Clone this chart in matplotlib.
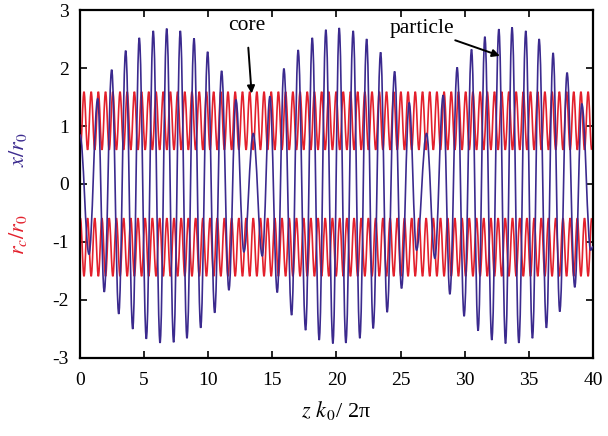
"""
Core envelope r_c/r_0 (red, +/-) and particle orbit x/r_0 (blue) vs z k_0 / 2pi.
Curves are drawn through the extrema read from the reference with smooth
cubic Bezier segments (horizontal tangents at each extremum).
"""

import matplotlib
matplotlib.use('Agg')
import numpy as np
import matplotlib.pyplot as plt
from matplotlib.path import Path
from matplotlib.patches import PathPatch

plt.rcParams['font.family'] = ['Liberation Serif', 'DejaVu Serif']
plt.rcParams['mathtext.fontset'] = 'stix'
plt.rcParams['axes.unicode_minus'] = False

# ===== data =====
# core envelope: positions of the upper maxima, max / min radius
core_peak_z = [0.31, 0.87, 1.43, 1.99, 2.56, 3.12, 3.68, 4.24, 4.80, 5.36,
               5.93, 6.49, 7.05, 7.61, 8.17, 8.73, 9.30, 9.86, 10.42, 10.98,
               11.54, 12.10, 12.67, 13.23, 13.79, 14.35, 14.91, 15.47, 16.03, 16.60,
               17.16, 17.72, 18.28, 18.84, 19.40, 19.97, 20.53, 21.09, 21.65, 22.21,
               22.77, 23.34, 23.90, 24.46, 25.02, 25.58, 26.14, 26.71, 27.27, 27.83,
               28.39, 28.95, 29.51, 30.07, 30.64, 31.20, 31.76, 32.32, 32.88, 33.44,
               34.01, 34.57, 35.13, 35.69, 36.25, 36.81, 37.38, 37.94, 38.50, 39.06,
               39.62]
core_start_z = 0.03
core_end_z = 39.90
core_max = 1.59
core_min = 0.59

# particle orbit: successive extrema (z, x/r0)
particle_z = [0.00, 0.70, 1.38, 1.89, 2.47, 3.02, 3.56, 4.11, 4.62, 5.17,
              5.71, 6.24, 6.76, 7.30, 7.82, 8.34, 8.89, 9.41, 9.95, 10.50,
              11.04, 11.61, 12.16, 12.78, 13.51, 14.21, 14.81, 15.38, 15.90, 16.50,
              17.01, 17.59, 18.11, 18.65, 19.17, 19.72, 20.21, 20.73, 21.30, 21.82,
              22.35, 22.86, 23.44, 23.95, 24.53, 25.07, 25.67, 26.24, 27.02, 27.67,
              28.32, 28.84, 29.41, 29.95, 30.53, 31.04, 31.57, 32.11, 32.66, 33.18,
              33.69, 34.22, 34.76, 35.28, 35.80, 36.37, 36.89, 37.41, 37.98, 38.58,
              39.13, 39.82, 40.00]
particle_x = [0.85, -1.21, 1.47, -1.86, 1.97, -2.24, 2.30, -2.50, 2.52, -2.67,
              2.64, -2.74, 2.68, -2.73, 2.64, -2.66, 2.51, -2.48, 2.28, -2.22,
              1.95, -1.83, 1.45, -1.17, 0.87, -1.24, 1.51, -1.87, 1.99, -2.26,
              2.31, -2.52, 2.52, -2.69, 2.66, -2.75, 2.69, -2.74, 2.64, -2.66,
              2.50, -2.49, 2.27, -2.21, 1.94, -1.80, 1.40, -1.14, 0.87, -1.28,
              1.53, -1.90, 2.01, -2.28, 2.32, -2.53, 2.54, -2.69, 2.67, -2.75,
              2.70, -2.74, 2.64, -2.66, 2.50, -2.48, 2.26, -2.20, 1.92, -1.78,
              1.38, -1.14, -1.08]

RED = '#e3202c'
BLUE = '#3b2a8e'


def smooth_path(xs, ys):
    """Bezier path through extrema, flat tangent at each one."""
    verts = [(xs[0], ys[0])]
    codes = [Path.MOVETO]
    for i in range(len(xs) - 1):
        d = xs[i + 1] - xs[i]
        verts += [(xs[i] + 0.364 * d, ys[i]),
                  (xs[i + 1] - 0.364 * d, ys[i + 1]),
                  (xs[i + 1], ys[i + 1])]
        codes += [Path.CURVE4] * 3
    return Path(verts, codes)


# core extrema: minima half way between the maxima
pk = np.array(core_peak_z)
troughs = np.concatenate([[core_start_z], (pk[:-1] + pk[1:]) / 2, [core_end_z]])
core_z = np.empty(len(pk) + len(troughs))
core_z[0::2] = troughs
core_z[1::2] = pk
core_r = np.where(np.arange(len(core_z)) % 2 == 0, core_min, core_max)

fig, ax = plt.subplots(figsize=(6.08, 4.36), dpi=100)
fig.subplots_adjust(left=0.1316, right=0.9753, top=0.977, bottom=0.179)

for sign in (1, -1):
    ax.add_patch(PathPatch(smooth_path(core_z, sign * core_r), fill=False,
                           edgecolor=RED, lw=1.2, zorder=2))
ax.add_patch(PathPatch(smooth_path(particle_z, particle_x), fill=False,
                       edgecolor=BLUE, lw=1.2, zorder=3))

ax.set_xlim(0, 40)
ax.set_ylim(-3, 3)
ax.set_xticks(np.arange(0, 41, 5))
ax.set_yticks(np.arange(-3, 4, 1))
ax.tick_params(direction='in', top=True, right=True, length=5, width=1.2,
               labelsize=14)
ax.tick_params(axis='x', pad=10)
ax.tick_params(axis='y', pad=8)
for sp in ax.spines.values():
    sp.set_linewidth(1.6)

# annotations
ax.annotate('core', xy=(13.38, 1.56), xytext=(13.0, 2.73),
            ha='center', va='center', fontsize=15.5,
            arrowprops=dict(arrowstyle='-|>', color='black', lw=1.4,
                            mutation_scale=11, shrinkA=7, shrinkB=0))
ax.annotate('particle', xy=(32.74, 2.21), xytext=(26.7, 2.69),
            ha='center', va='center', fontsize=15.5,
            arrowprops=dict(arrowstyle='-|>', color='black', lw=1.4,
                            mutation_scale=11, shrinkA=0, shrinkB=0,
                            relpos=(0.8, 0.1)))

# axis labels
fig.text(0.553, 0.058, r'$z\ k_{\,0}$/ 2π', ha='center', va='center', fontsize=16)
fig.text(0.030, 0.656, r'$x/r_0$', color=BLUE, rotation=90,
         ha='center', va='center', fontsize=16)
fig.text(0.030, 0.461, r'$r_c/r_0$', color=RED, rotation=90,
         ha='center', va='center', fontsize=16)

fig.savefig('out.png', dpi=100, facecolor='white')
